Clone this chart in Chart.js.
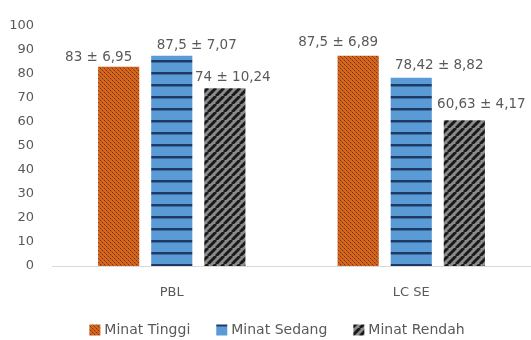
<!DOCTYPE html>
<html>
<head>
<meta charset="utf-8">
<script src="https://cdn.jsdelivr.net/npm/chart.js@4.4.1/dist/chart.umd.min.js"></script>
<style>
  html, body { margin: 0; padding: 0; background: #fff; }
  #wrap { width: 531px; height: 340px; position: relative; }
</style>
</head>
<body>
<div id="wrap"><canvas id="chart"></canvas></div>
<script>
// chart data
const groups = ['PBL', 'LC SE'];
const seriesNames = ['Minat Tinggi', 'Minat Sedang', 'Minat Rendah'];
const minatTinggi = [83, 87.5];
const minatSedang = [87.5, 78.42];
const minatRendah = [74, 60.63];
const sdTinggi = ['6,95', '6,89'];
const sdSedang = ['7,07', '8,82'];
const sdRendah = ['10,24', '4,17'];
const meanTinggi = ['83', '87,5'];
const meanSedang = ['87,5', '78,42'];
const meanRendah = ['74', '60,63'];
const yTicks = [0, 10, 20, 30, 40, 50, 60, 70, 80, 90, 100];

const FONT = '"DejaVu Sans", sans-serif';
const TEXT = '#595959';

// small tiles for the Excel-like fill patterns
function makePattern(w, h, draw) {
    const c = document.createElement('canvas');
    c.width = w; c.height = h;
    const g = c.getContext('2d');
    draw(g, w, h);
    return g.createPattern(c, 'repeat');
}

const orangeFill = makePattern(4, 4, (g) => {
    g.fillStyle = '#D46620';
    g.fillRect(0, 0, 4, 4);
    g.fillStyle = '#7A320C';
    g.fillRect(0, 0, 1, 1);
    g.fillRect(2, 2, 1, 1);
    g.fillStyle = '#A84C16';
    g.fillRect(1, 1, 1, 1);
    g.fillRect(3, 3, 1, 1);
});

const blueFill = makePattern(4, 12, (g) => {
    g.fillStyle = '#5B9BD5';
    g.fillRect(0, 0, 4, 12);
    g.fillStyle = '#1F3864';
    g.fillRect(0, 0, 4, 2);
    g.fillStyle = '#3A6FA6';
    g.fillRect(0, 2, 4, 1);
});

const grayFill = makePattern(8, 8, (g) => {
    g.fillStyle = '#8C8C8C';
    g.fillRect(0, 0, 8, 8);
    g.strokeStyle = '#1A1A1A';
    g.lineWidth = 3;
    g.beginPath();
    for (let k = -8; k <= 16; k += 8) {
        g.moveTo(k, 8);
        g.lineTo(k + 8, 0);
    }
    g.stroke();
});

// labels "mean ± sd" drawn above each bar, nudged like the original
const valueLabels = {
    id: 'valueLabels',
    afterDatasetsDraw(chart, args, opts) {
        const ctx = chart.ctx;
        ctx.save();
        ctx.font = '13.5px ' + FONT;
        ctx.fillStyle = TEXT;
        ctx.textAlign = 'center';
        ctx.textBaseline = 'alphabetic';
        chart.data.datasets.forEach((ds, di) => {
            const meta = chart.getDatasetMeta(di);
            meta.data.forEach((bar, i) => {
                const shift = opts.shift[di][i];
                ctx.fillText(ds.labelText[i], bar.x + shift[0], bar.y + shift[1]);
            });
        });
        ctx.restore();
    }
};

// legend row drawn by hand so its spacing can follow the original
const bottomLegend = {
    id: 'bottomLegend',
    afterDraw(chart, args, opts) {
        const ctx = chart.ctx;
        ctx.save();
        ctx.font = opts.size + 'px ' + FONT;
        ctx.textBaseline = 'middle';
        ctx.textAlign = 'left';
        const items = chart.data.datasets.map(ds => ({
            text: ds.label,
            fill: ds.backgroundColor,
            w: opts.box + opts.gap + ctx.measureText(ds.label).width
        }));
        const total = items.reduce((s, it) => s + it.w, 0) + opts.spacing * (items.length - 1);
        let x = opts.centerX - total / 2;
        items.forEach(it => {
            ctx.fillStyle = it.fill;
            ctx.fillRect(x, opts.y - opts.box / 2, opts.box, opts.box);
            ctx.fillStyle = TEXT;
            ctx.fillText(it.text, x + opts.box + opts.gap, opts.y);
            x += it.w + opts.spacing;
        });
        ctx.restore();
    }
};

const lbl = (means, sds) => means.map((m, i) => `${m} ± ${sds[i]}`);

new Chart(document.getElementById('chart'), {
    type: 'bar',
    data: {
        labels: groups,
        datasets: [
            { label: seriesNames[0], data: minatTinggi, backgroundColor: orangeFill, labelText: lbl(meanTinggi, sdTinggi) },
            { label: seriesNames[1], data: minatSedang, backgroundColor: blueFill, labelText: lbl(meanSedang, sdSedang) },
            { label: seriesNames[2], data: minatRendah, backgroundColor: grayFill, labelText: lbl(meanRendah, sdRendah) }
        ]
    },
    options: {
        responsive: true,
        maintainAspectRatio: false,
        animation: false,
        categoryPercentage: 0.665,
        barPercentage: 0.775,
        layout: { padding: { top: 6, right: 0, left: 0, bottom: 43 } },
        scales: {
            x: {
                afterFit: (axis) => { axis.height = 31; },
                grid: { display: false, drawTicks: false },
                border: { display: true, color: '#D9D9D9', width: 1 },
                ticks: { color: TEXT, font: { family: FONT, size: 13 }, padding: 19 }
            },
            y: {
                min: 0,
                max: 100,
                afterFit: (axis) => { axis.width = 52; },
                afterBuildTicks: (axis) => { axis.ticks = yTicks.map(v => ({ value: v })); },
                grid: { display: false, drawTicks: false },
                border: { display: false },
                ticks: { color: TEXT, font: { family: FONT, size: 13 }, padding: 18 }
            }
        },
        plugins: {
            legend: { display: false },
            tooltip: { enabled: false },
            bottomLegend: { centerX: 277, y: 330, size: 14, box: 11, gap: 4, spacing: 26 },
            valueLabels: {
                shift: [
                    [[-20, -5.5], [-20, -9.5]],
                    [[25, -6.5], [28, -8.5]],
                    [[8, -7.5], [17, -12]]
                ]
            }
        }
    },
    plugins: [valueLabels, bottomLegend]
});
</script>
</body>
</html>
